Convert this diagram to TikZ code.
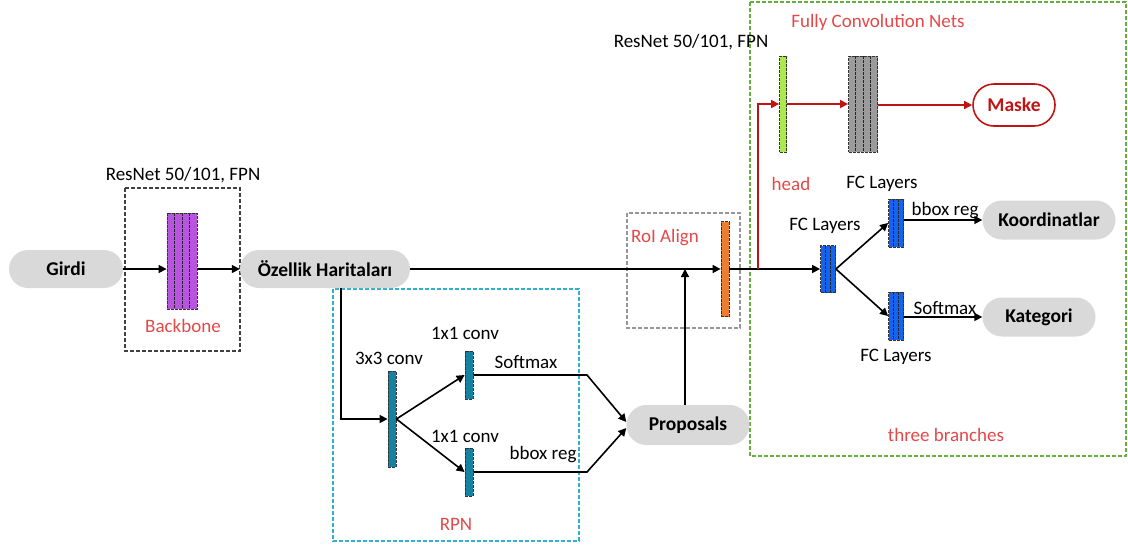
\documentclass[tikz,border=0pt]{standalone}
\usepackage{fontspec}
\setmainfont{Carlito}
\usetikzlibrary{shapes.misc,arrows.meta,calc}
\definecolor{pillgray}{RGB}{217,217,217}
\definecolor{lblred}{RGB}{228,72,72}
\definecolor{darkred}{RGB}{192,20,20}
\definecolor{barpurple}{RGB}{184,84,224}
\definecolor{barteal}{RGB}{20,130,160}
\definecolor{barorange}{RGB}{237,125,49}
\definecolor{bargreen}{RGB}{172,232,80}
\definecolor{bargray}{RGB}{155,155,155}
\definecolor{barblue}{RGB}{20,100,240}
\definecolor{boxteal}{RGB}{50,175,205}
\definecolor{boxgreen}{RGB}{100,175,60}
\definecolor{boxgray}{RGB}{150,150,150}
\tikzset{
  pill/.style={rounded rectangle, fill=pillgray, minimum height=38pt, inner sep=0pt,
    font=\fontsize{19.5}{22}\selectfont\bfseries},
  txt/.style={font=\fontsize{19}{21}\selectfont, inner sep=0pt},
  rtxt/.style={txt, text=lblred},
  conn/.style={line width=1.6pt, -{Triangle[length=8pt,width=8pt]}},
  bar/.style={draw=black!80, dash pattern=on 3pt off 1pt, line width=0.8pt, inner sep=0pt},
  stripes/.style={path picture={
    \foreach \i in {1,...,#1} {
      \draw[black!85, dash pattern=on 3pt off 1pt, line width=0.9pt]
        ($(path picture bounding box.north west)!{\i/(#1+1)}!(path picture bounding box.north east)$) --
        ($(path picture bounding box.south west)!{\i/(#1+1)}!(path picture bounding box.south east)$);}}},
  dbox/.style={line width=1.1pt, dash pattern=on 4pt off 2pt}
}
\begin{document}
\begin{tikzpicture}[x=1pt,y=-1pt]
\useasboundingbox (0,0) rectangle (1128,544);
% dashed group boxes
\draw[dbox, draw=black!75] (125,188) rectangle (240,351);
\draw[dbox, draw=boxteal] (333,289) rectangle (579,541);
\draw[dbox, draw=boxgray] (627,213) rectangle (740,328);
\draw[dbox, draw=boxgreen] (750,2) rectangle (1126,456);

% group labels
\node[txt] (resnetA) at (183,175) {ResNet 50/101, FPN};
\node[rtxt] (lblbackbone) at (183,326) {Backbone};
\node[rtxt] (lblrpn) at (456,524) {RPN};
\node[rtxt] (lblroi) at (665,238) {RoI Align};
\node[rtxt] (lblfcn) at (878,22) {Fully Convolution Nets};
\node[txt] (resnetB) at (691,42) {ResNet 50/101, FPN};
\node[rtxt] (lblhead) at (791,184) {head};
\node[rtxt] (lblthree) at (946,435) {three branches};

% pills
\node[pill, minimum width=114pt] (girdi) at (66,269) {Girdi};
\node[pill, minimum width=170pt] (ozellik) at (325,269) {Özellik Haritaları};
\node[pill, minimum width=123pt, minimum height=40pt] (prop) at (688,425) {Proposals};
\node[pill, minimum width=133pt, minimum height=39pt] (koord) at (1049,220) {Koordinatlar};
\node[pill, minimum width=113pt, minimum height=39pt] (kat) at (1039,317) {Kategori};
\node[rounded rectangle, draw=darkred, line width=1.6pt, fill=white, minimum width=82pt,
  minimum height=42pt, inner sep=0pt, text=darkred, font=\fontsize{19.5}{22}\selectfont\bfseries]
  (maske) at (1014,105) {Maske};

% bars
\node[bar, fill=barpurple, minimum width=30pt, minimum height=96pt, stripes=3] (backbone) at (182,261) {};
\node[bar, fill=barteal, minimum width=8pt, minimum height=96pt] (conv3) at (392,419) {};
\node[bar, fill=barteal, minimum width=8pt, minimum height=48pt] (conv1a) at (469,375) {};
\node[bar, fill=barteal, minimum width=8pt, minimum height=48pt] (conv1b) at (469,472) {};
\node[bar, fill=barorange, minimum width=8pt, minimum height=95pt] (roi) at (725,269) {};
\node[bar, fill=bargreen, minimum width=7pt, minimum height=96pt] (head) at (783,104) {};
\node[bar, fill=bargray, minimum width=29pt, minimum height=96pt, stripes=3] (fcn) at (863,104) {};
\node[bar, fill=barblue, minimum width=15pt, minimum height=47pt, stripes=2] (fcm) at (828,269) {};
\node[bar, fill=barblue, minimum width=15pt, minimum height=48pt, stripes=2] (fct) at (896,223) {};
\node[bar, fill=barblue, minimum width=15pt, minimum height=48pt, stripes=2] (fcb) at (896,316) {};

% bar labels
\node[txt] (l3x3) at (389,358) {3x3 conv};
\node[txt] (l1a) at (465,333) {1x1 conv};
\node[txt] (l1b) at (465,436) {1x1 conv};
\node[txt] (lsoft1) at (526,362) {Softmax};
\node[txt] (lbbox1) at (543,455) {bbox reg};
\node[txt] (lfcm) at (825,226) {FC Layers};
\node[txt] (lfct) at (882,184) {FC Layers};
\node[txt] (lfcb) at (896,357) {FC Layers};
\node[txt] (lbbox2) at (945,211) {bbox reg};
\node[txt] (lsoft2) at (945,308) {Softmax};

% coordinates
\coordinate (tap) at (341,288);
\coordinate (sbend) at (587,375);
\coordinate (bbend) at (587,472);
\coordinate (split) at (758,269);

% connectors
\draw[conn] (girdi.east) -- (girdi.east -| backbone.west);
\draw[conn] (girdi.east -| backbone.east) -- (ozellik.west);
\draw[conn] (ozellik.east) -- (roi.west);
\draw[conn] (prop.north -| 685,0) -- (685,269);
\draw[conn] (tap) |- (conv3.west);
\draw[conn] (conv3.east) -- (conv1a.west);
\draw[conn] (conv3.east) -- (conv1b.west);
\draw[conn] (conv1a.east) -- (sbend) -- ($(prop.west)+(0,-3)$);
\draw[conn] (conv1b.east) -- (bbend) -- ($(prop.west)+(0,3)$);
\draw[conn] (roi.east) -- (fcm.west);
\draw[conn] (fcm.east) -- (fct.west);
\draw[conn] (fcm.east) -- (fcb.west);
\draw[conn] (koord.west -| fct.east) -- (koord.west);
\draw[conn] (kat.west -| fcb.east) -- (kat.west);
\draw[conn, darkred] (split) |- (head.west);
\draw[conn, darkred] (head.east) -- (fcn.west);
\draw[conn, darkred] (maske.west -| fcn.east) -- (maske.west);
\end{tikzpicture}
\end{document}
